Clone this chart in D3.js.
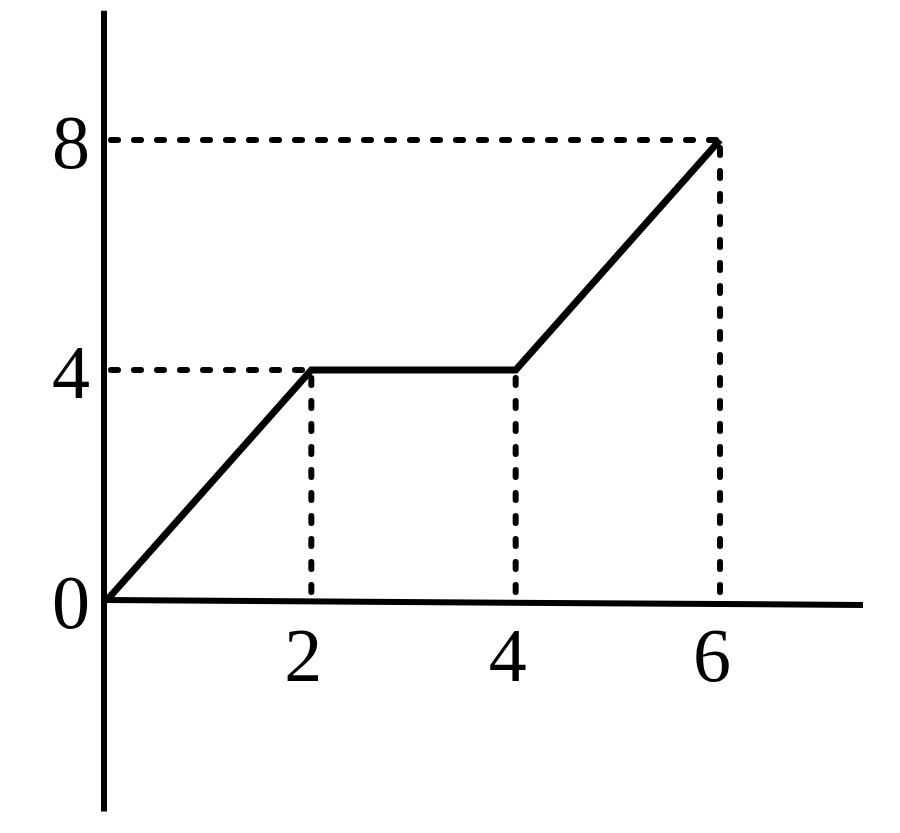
<!DOCTYPE html>
<html>
  <head>
    <meta charset="utf-8">
    <title></title>
    <script type="text/javascript" src="https://d3js.org/d3.v7.min.js"></script>
    <style media="screen">
      body { margin: 0; background: #fff; }
      text { font-family: "Liberation Serif", "DejaVu Serif", serif; fill: #000; }
    </style>
  </head>
  <body>

    <script type="text/javascript">

      // the graph: corners of the broken line
      var xs = [0, 2, 4, 6];
      var ys = [0, 4, 4, 8];

      // tick labels on each axis
      var xTicks = [2, 4, 6];
      var yTicks = [0, 4, 8];

      // points that get dashed guide lines to the axes
      var guideX = [2, 4, 6];
      var guideY = [4, 4, 8];

      // how far the axis lines run (in data units)
      var xAxisEnd = 7.4;
      var yAxisTop = 10.25;
      var yAxisBottom = -3.68;

      var w = 900;
      var h = 833;

      var xscale = d3.scaleLinear()
        .domain([0, 6])
        .range([107, 720]);

      var yscale = d3.scaleLinear()
        .domain([0, 8])
        .range([600, 140]);

      var svg = d3.select('body')
        .append('svg')
        .attr('width', w)
        .attr('height', h);

      function dashed(x1, y1, x2, y2) {
        svg.append('line')
          .attr('x1', x1).attr('y1', y1)
          .attr('x2', x2).attr('y2', y2)
          .attr('stroke', '#000')
          .attr('stroke-width', 6)
          .attr('stroke-dasharray', '7,16')
          .attr('stroke-linecap', 'round');
      }

      // dashed guides down to the x axis
      guideX.forEach(function(gx, i) {
        dashed(xscale(gx), yscale(guideY[i]) + 8, xscale(gx), yscale(0));
      });

      // across to the y axis (left-most point of each level)
      [0, 2].forEach(function(i) {
        dashed(xscale(0) + 4, yscale(guideY[i]), xscale(guideX[i]), yscale(guideY[i]));
      });

      // axes
      svg.append('line')
        .attr('x1', xscale(0) - 3).attr('y1', yscale(yAxisTop))
        .attr('x2', xscale(0) - 3).attr('y2', yscale(yAxisBottom))
        .attr('stroke', '#000')
        .attr('stroke-width', 6);

      svg.append('line')
        .attr('x1', xscale(0) - 3).attr('y1', yscale(0))
        .attr('x2', xscale(xAxisEnd)).attr('y2', yscale(0) + 5)
        .attr('stroke', '#000')
        .attr('stroke-width', 6);

      // the graph
      var line = d3.line()
        .x(function(d) { return xscale(d); })
        .y(function(d, i) { return yscale(ys[i]); });

      svg.append('path')
        .attr('d', line(xs))
        .attr('fill', 'none')
        .attr('stroke', '#000')
        .attr('stroke-width', 7)
        .attr('stroke-linejoin', 'miter');

      // tick labels
      svg.selectAll('text.ylab')
        .data(yTicks)
        .enter()
        .append('text')
        .attr('class', 'ylab')
        .attr('x', 90)
        .attr('y', function(d) { return yscale(d) + 28; })
        .attr('text-anchor', 'end')
        .attr('font-size', 76)
        .text(function(d) { return d; });

      svg.selectAll('text.xlab')
        .data(xTicks)
        .enter()
        .append('text')
        .attr('class', 'xlab')
        .attr('x', function(d) { return xscale(d) - 8; })
        .attr('y', 681)
        .attr('text-anchor', 'middle')
        .attr('font-size', 76)
        .text(function(d) { return d; });

    </script>

  </body>
</html>
